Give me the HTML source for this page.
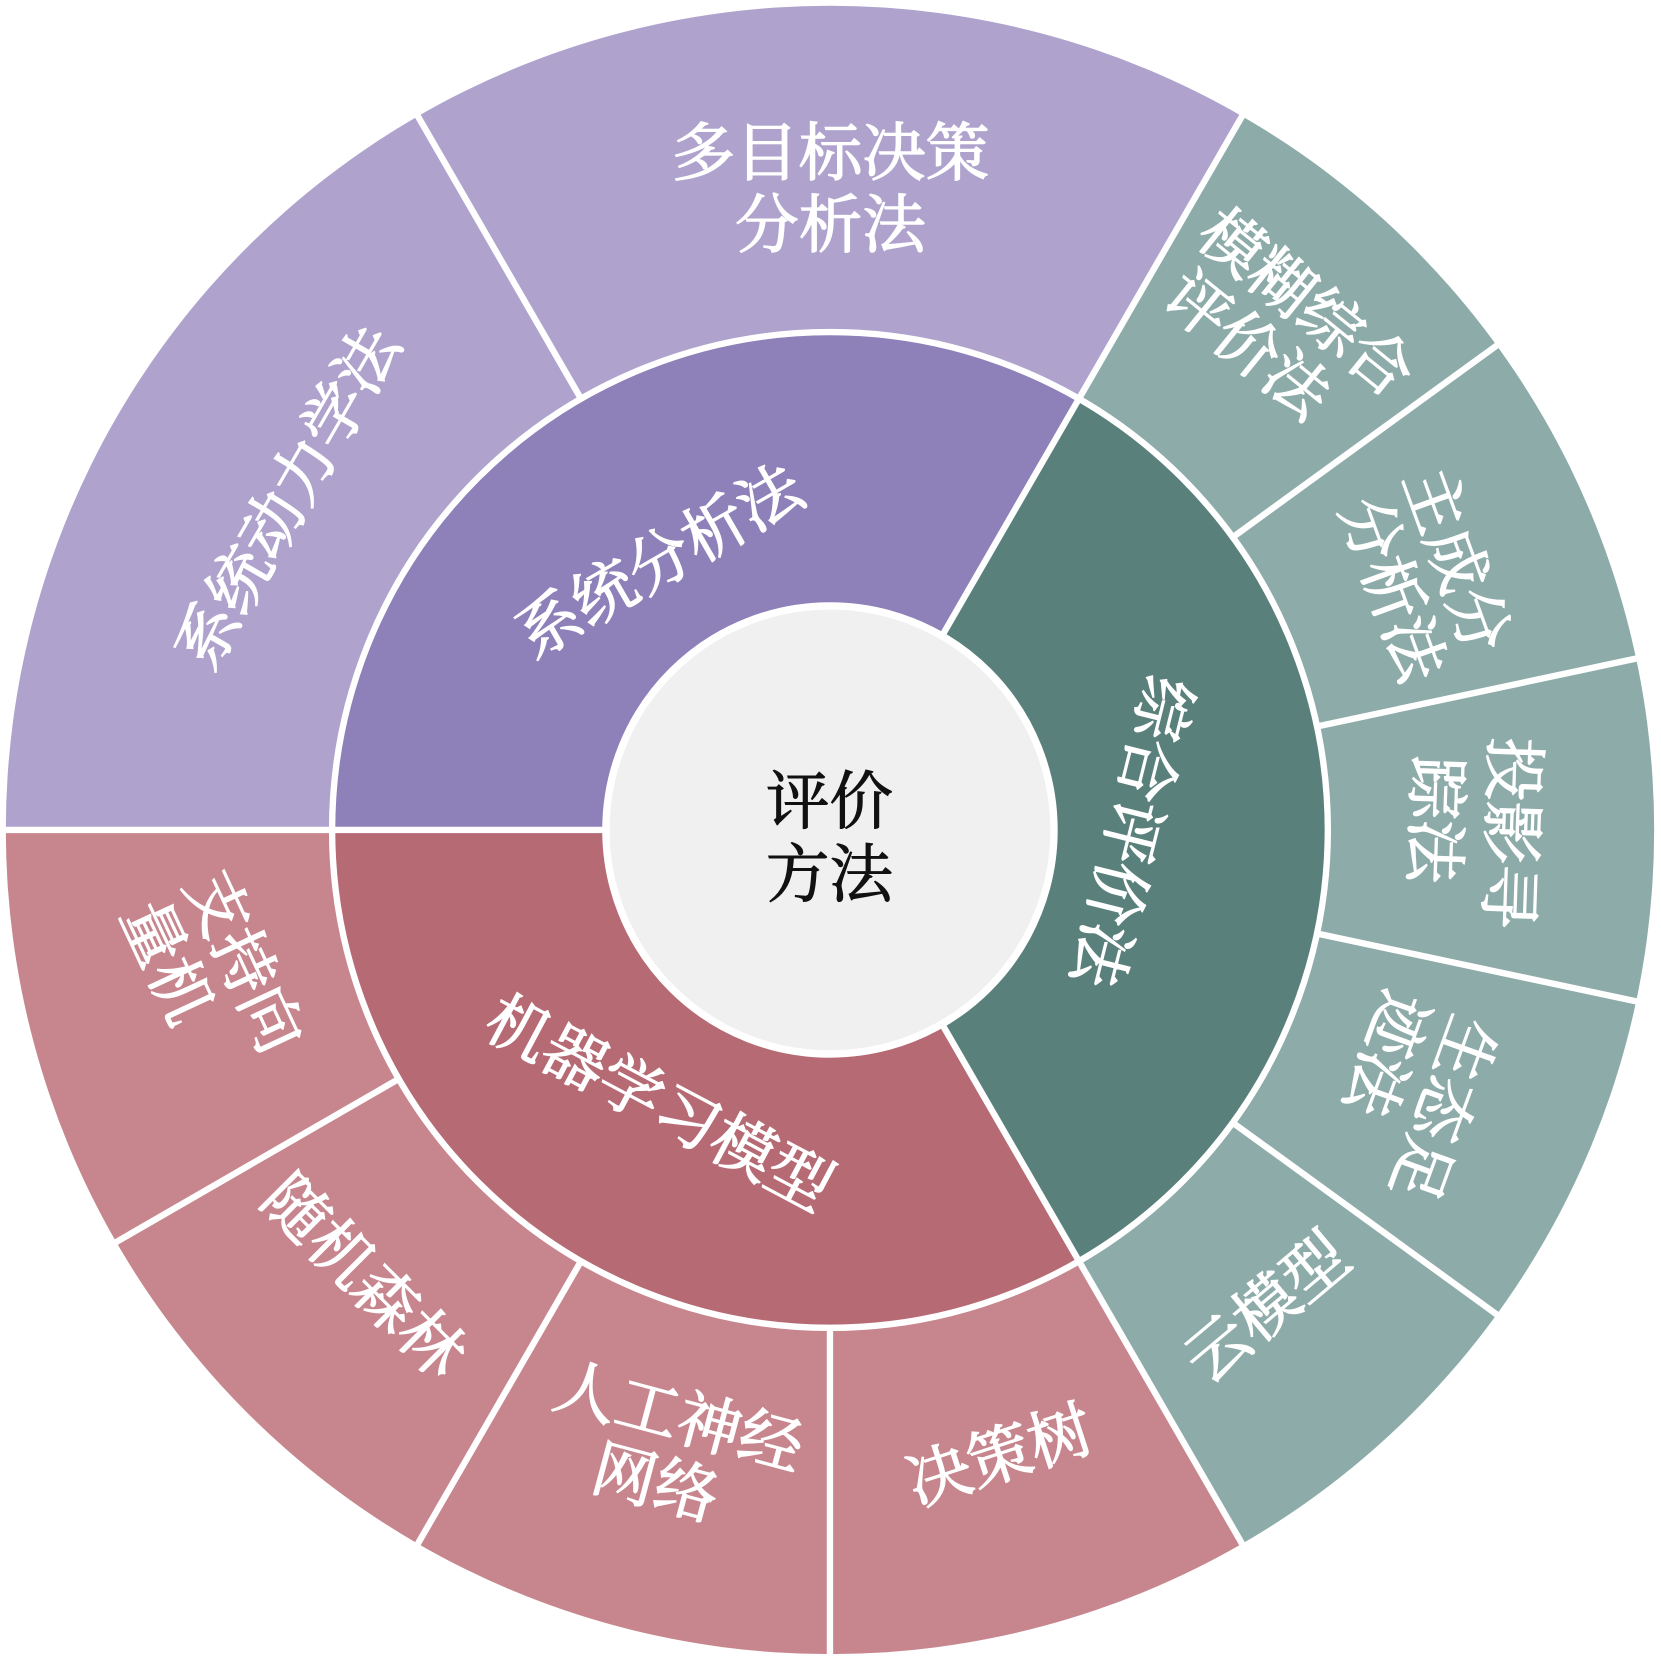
<!DOCTYPE html>
<html><head><meta charset="utf-8">
<style>
html,body{margin:0;padding:0;background:#fff;}
svg{display:block;}
text{font-family:"Liberation Serif","Noto Serif CJK SC","Noto Sans CJK SC",serif;fill:#fff;stroke:#fff;stroke-width:1.3;font-size:60px;text-anchor:middle;dominant-baseline:central;}
text.c{fill:#111;stroke:#111;stroke-width:1;}
</style></head>
<body>
<svg width="1661" height="1662" viewBox="0 0 1661 1662" xmlns="http://www.w3.org/2000/svg">
<g transform="scale(1.0593)">
  <path d="M783.5 783.5 L1172.5 109.7 A778 778 0 0 0 5.5 783.5 Z" fill="#AFA3CE"/>
  <path d="M783.5 783.5 L1172.5 1457.3 A778 778 0 0 0 1172.5 109.7 Z" fill="#8DABA9"/>
  <path d="M783.5 783.5 L5.5 783.5 A778 778 0 0 0 1172.5 1457.3 Z" fill="#C7868E"/>
  <path d="M783.5 783.5 L1018.5 376.5 A470 470 0 0 0 313.5 783.5 Z" fill="#8E80B8"/>
  <path d="M783.5 783.5 L1018.5 1190.5 A470 470 0 0 0 1018.5 376.5 Z" fill="#5A807C"/>
  <path d="M783.5 783.5 L313.5 783.5 A470 470 0 0 0 1018.5 1190.5 Z" fill="#B66A74"/>
  <circle cx="783.5" cy="783.5" r="470" fill="none" stroke="#fff" stroke-width="6"/>
  <g stroke="#fff" stroke-width="6">
    <line x1="548.5" y1="376.5" x2="393.5" y2="108"/>
    <line x1="783.5" y1="1253.5" x2="783.5" y2="1563.5"/>
    <line x1="548.5" y1="1190.5" x2="393.5" y2="1459"/>
    <line x1="376.5" y1="1018.5" x2="108" y2="1173.5"/>
    <line x1="1163.7" y1="507.2" x2="1414.5" y2="325"/>
    <line x1="1243.2" y1="685.8" x2="1546.4" y2="621.3"/>
    <line x1="1243.2" y1="881.2" x2="1546.4" y2="945.7"/>
    <line x1="1163.7" y1="1059.8" x2="1414.5" y2="1242"/>
    <line x1="889" y1="600.8" x2="1173.5" y2="108"/>
    <line x1="572.5" y1="783.5" x2="0" y2="783.5"/>
    <line x1="889" y1="966.2" x2="1173.5" y2="1459"/>
  </g>
  <circle cx="783.5" cy="783.5" r="211.5" fill="#F0F0F0" stroke="#fff" stroke-width="7"/>
  <text class="c" x="783" y="757">评价</text>
  <text class="c" x="783" y="826">方法</text>

  <text x="784" y="145">多目标决策</text>
  <text x="784" y="213">分析法</text>
  <text transform="translate(272,470) rotate(-60)">系统动力学法</text>
  <text transform="translate(623,530) rotate(-30)">系统分析法</text>
  <text transform="translate(1068,785) rotate(104)">综合评价法</text>
  <text transform="translate(622,1042) rotate(28)">机器学习模型</text>
  <g transform="translate(1212,312) rotate(39)">
    <text x="0" y="-33">模糊综合</text>
    <text x="-18" y="33">评价法</text>
  </g>
  <g transform="translate(1345,545) rotate(70)">
    <text x="-5" y="-33">主成分</text>
    <text x="0" y="33">分析法</text>
  </g>
  <g transform="translate(1390,785) rotate(92)">
    <text x="0" y="-36" style="text-anchor:start" dx="-90">投影寻</text>
    <text x="0" y="36" style="text-anchor:start" dx="-70">踪法</text>
  </g>
  <g transform="translate(1330,1035) rotate(110)">
    <text x="0" y="-34" style="text-anchor:start" dx="-90">生态足</text>
    <text x="0" y="34" style="text-anchor:start" dx="-90">迹法</text>
  </g>
  <text transform="translate(1196,1235) rotate(-40)">云模型</text>
  <text transform="translate(944,1375) rotate(-18)">决策树</text>
  <g transform="translate(632,1370) rotate(15)">
    <text x="0" y="-33">人工神经</text>
    <text x="-5" y="33">网络</text>
  </g>
  <text transform="translate(343,1205) rotate(45)">随机森林</text>
  <g transform="translate(200,922) rotate(65)">
    <text x="0" y="-33" style="text-anchor:start" dx="-90">支持向</text>
    <text x="0" y="33" style="text-anchor:start" dx="-90">量机</text>
  </g>
</g>
</svg>
</body></html>
